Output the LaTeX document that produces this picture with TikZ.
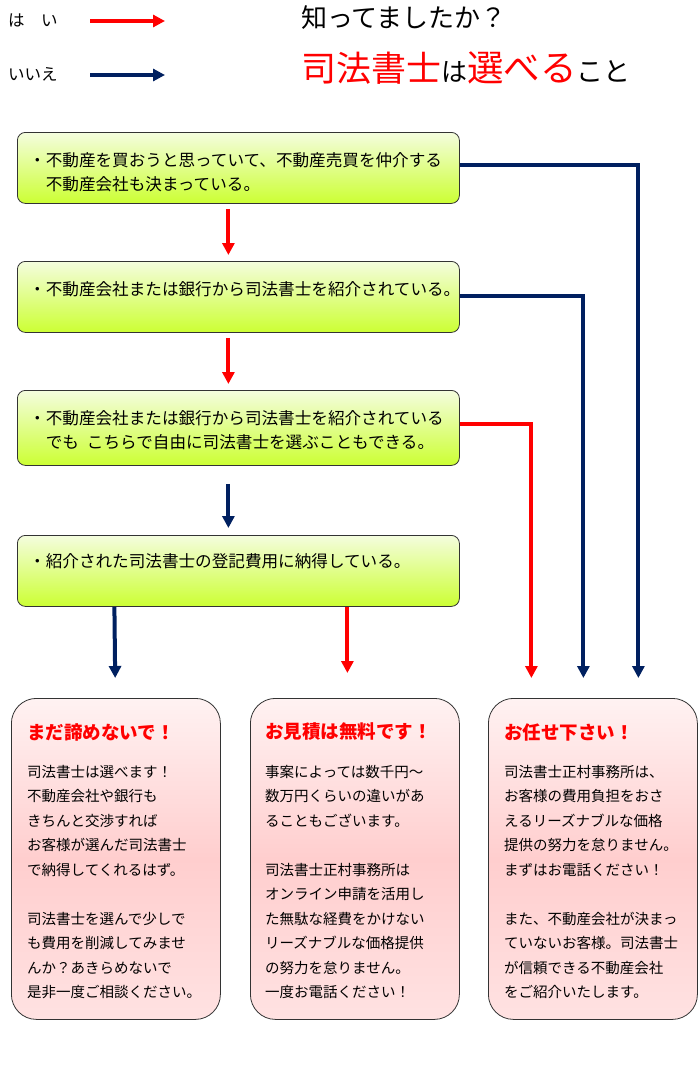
\documentclass[tikz,border=0pt]{standalone}
\usepackage{fontspec}
\setmainfont{Noto Sans CJK JP}
\usetikzlibrary{arrows.meta}
\definecolor{navy}{RGB}{0,32,96}
\definecolor{myred}{RGB}{255,0,0}
\definecolor{gtop}{RGB}{244,253,222}
\definecolor{gbot}{RGB}{204,255,51}
\definecolor{ptop}{RGB}{255,242,242}
\definecolor{pmid}{RGB}{255,206,206}
\definecolor{pbot}{RGB}{255,226,226}
\begin{document}
\begin{tikzpicture}[x=1pt,y=-1pt,
  qbox/.style={draw=black!80, line width=0.8pt, rounded corners=8pt, top color=gtop, bottom color=gbot, minimum width=442pt, minimum height=71pt, anchor=north west, inner sep=0pt},
  abox/.style={draw=black!80, line width=0.8pt, rounded corners=25pt, top color=ptop, bottom color=pbot, middle color=pmid, minimum width=209pt, minimum height=321pt, anchor=north west, inner sep=0pt},
  qtext/.style={anchor=north west, align=left, inner sep=0pt, font=\fontsize{16.6}{24}\selectfont},
  atitle/.style={anchor=west, inner sep=0pt, text=myred, font=\fontsize{18.5}{20}\selectfont\bfseries},
  abody/.style={anchor=north west, align=left, inner sep=0pt, font=\fontsize{14.5}{24.5}\selectfont},
  legend/.style={anchor=west, inner sep=0pt, font=\fontsize{16.5}{18}\selectfont},
  yes/.style={draw=myred, line width=4pt, -{Triangle[width=12pt,length=12pt]}},
  no/.style={draw=navy, line width=4pt, -{Triangle[width=12pt,length=12pt]}}
]
\fill[white] (0,0) rectangle (700,1081);
\useasboundingbox (0,0) rectangle (700,1081);

% legend
\node[legend] (lyes) at (8,20) {は　い};
\node[legend] (lno) at (8,74) {いいえ};
\coordinate (ly1) at (90,21); \coordinate (ly2) at (165,21);
\coordinate (ln1) at (90,75); \coordinate (ln2) at (165,75);
\draw[yes] (ly1) -- (ly2);
\draw[no] (ln1) -- (ln2);

% title
\node[anchor=west, inner sep=0pt, font=\fontsize{26}{28}\selectfont] (t1) at (301,18) {知ってましたか？};
\node[anchor=west, inner sep=0pt] (t2) at (301,68) {{\color{myred}\fontsize{35}{36}\selectfont 司法書士}{\fontsize{26}{27}\selectfont は}{\color{myred}\fontsize{36.5}{37}\selectfont 選べる}{\fontsize{27}{28}\selectfont こと}};

% question boxes
\node[qbox] (b1) at (17,132) {};
\node[qbox] (b2) at (17,261) {};
\node[qbox, minimum height=75pt] (b3) at (17,390) {};
\node[qbox] (b4) at (17,535) {};

\node[qtext] (q1) at (29,152) {・不動産を買おうと思っていて、不動産売買を仲介する\\\phantom{・}不動産会社も決まっている。};
\node[qtext] (q2) at (29,281) {・不動産会社または銀行から司法書士を紹介されている。};
\node[qtext] (q3) at (29,410) {・不動産会社または銀行から司法書士を紹介されている\\\phantom{・}でも\hspace{8pt}こちらで自由に司法書士を選ぶこともできる。};
\node[qtext] (q4) at (29,553) {・紹介された司法書士の登記費用に納得している。};

% answer boxes
\node[abox] (aA) at (11,698) {};
\node[abox] (aB) at (250,698) {};
\node[abox] (aC) at (488,698) {};

\node[atitle] (tA) at (27,732) {まだ諦めないで！};
\node[atitle] (tB) at (265,732) {お見積は無料です！};
\node[atitle] (tC) at (504,732) {お任せ下さい！};

\node[abody] (xA) at (27,765) {司法書士は選べます！\\不動産会社や銀行も\\きちんと交渉すれば\\お客様が選んだ司法書士\\で納得してくれるはず。\\[24.5pt]司法書士を選んで少しで\\も費用を削減してみませ\\んか？あきらめないで\\是非一度ご相談ください。};
\node[abody] (xB) at (265,765) {事案によっては数千円～\\数万円くらいの違いがあ\\ることもございます。\\[24.5pt]司法書士正村事務所は\\オンライン申請を活用し\\た無駄な経費をかけない\\リーズナブルな価格提供\\の努力を怠りません。\\一度お電話ください！};
\node[abody] (xC) at (504,765) {司法書士正村事務所は、\\お客様の費用負担をおさ\\えるリーズナブルな価格\\提供の努力を怠りません。\\まずはお電話ください！\\[24.5pt]また、不動産会社が決まっ\\ていないお客様。司法書士\\が信頼できる不動産会社\\をご紹介いたします。};

% vertical flow arrows
\draw[yes, shorten <=5pt, shorten >=6pt] ([xshift=-10pt]b1.south) -- ([xshift=-10pt]b2.north);
\draw[yes, shorten <=5pt, shorten >=6pt] ([xshift=-10pt]b2.south) -- ([xshift=-10pt]b3.north);
\draw[no, shorten <=18pt, shorten >=7pt] ([xshift=-10pt]b3.south) -- ([xshift=-10pt]b4.north);

% from box 4
\draw[no, shorten >=20pt] ([xshift=-124pt]b4.south) -- ([xshift=-0.5pt]aA.north);
\draw[yes, shorten >=25pt] ([xshift=109pt]b4.south) -- ([xshift=-7.5pt]aB.north);

% side connectors
\draw[yes, shorten >=20pt] ([yshift=3.5pt]b3.east) -| ([xshift=-61.5pt]aC.north);
\draw[no, shorten >=20pt] ([yshift=0.5pt]b2.east) -| ([xshift=-9.5pt]aC.north);
\draw[no, shorten >=20pt] ([yshift=2.5pt]b1.east) -| ([xshift=45.5pt]aC.north);
\end{tikzpicture}
\end{document}
